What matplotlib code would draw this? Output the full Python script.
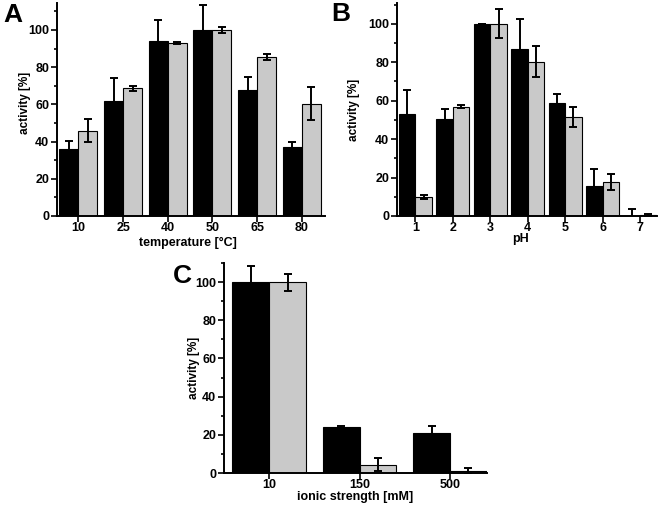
import numpy as np
import matplotlib
matplotlib.use("Agg")
from matplotlib import pyplot as plt
from matplotlib.ticker import MultipleLocator

plt.rcParams['font.family'] = ['Liberation Sans', 'DejaVu Sans']
plt.rcParams['font.weight'] = 'bold'

# panel A: temperature
temp_labels = ['10', '25', '40', '50', '65', '80']
temp_black = [35.8, 62.0, 94.3, 100.0, 67.9, 37.1]
temp_black_err = [4.5, 12.0, 11.0, 13.4, 6.7, 2.5]
temp_gray = [45.9, 68.6, 93.2, 100.0, 85.3, 60.4]
temp_gray_err = [6.0, 1.2, 0.5, 1.8, 1.7, 8.7]

# panel B: pH
ph_labels = ['1', '2', '3', '4', '5', '6', '7']
ph_black = [53.1, 50.3, 100.0, 87.0, 58.7, 15.8, 0.0]
ph_black_err = [12.4, 5.3, 0.0, 15.6, 5.0, 8.5, 3.8]
ph_gray = [9.7, 56.8, 100.0, 80.2, 51.7, 17.9, 0.5]
ph_gray_err = [1.1, 0.7, 7.5, 8.0, 5.2, 4.2, 0.3]

# panel C: ionic strength
ion_labels = ['10', '150', '500']
ion_black = [100.0, 23.9, 20.7]
ion_black_err = [8.4, 0.5, 3.7]
ion_gray = [100.0, 4.4, 1.0]
ion_gray_err = [4.5, 3.5, 1.6]

W, H = 661, 507
fig = plt.figure(figsize=(W / 100, H / 100), dpi=100)

def px_axes(left, top, right, bottom):
    return fig.add_axes([left / W, 1 - bottom / H, (right - left) / W, (bottom - top) / H])

def panel(ax, labels, black, black_err, gray, gray_err, bw, xlim, ylim,
          xlabel, xlabel_pos, ylabel_pos, letter, letter_xy):
    x = np.arange(len(labels))
    ax.bar(x - bw / 2, black, bw, color='black', edgecolor='black', linewidth=0.8, zorder=2)
    ax.bar(x + bw / 2, gray, bw, color='#c9c9c9', edgecolor='black', linewidth=0.8, zorder=2)
    ax.errorbar(x - bw / 2, black, yerr=black_err, fmt='none', ecolor='black',
                elinewidth=1.4, capsize=3, capthick=1.4, zorder=3)
    ax.errorbar(x + bw / 2, gray, yerr=gray_err, fmt='none', ecolor='black',
                elinewidth=1.4, capsize=3, capthick=1.4, zorder=3)
    ax.set_xlim(*xlim)
    ax.set_ylim(0, ylim)
    ax.set_xticks(x)
    ax.set_xticklabels(labels)
    ax.yaxis.set_major_locator(MultipleLocator(20))
    ax.yaxis.set_minor_locator(MultipleLocator(10))
    for side in ['top', 'right']:
        ax.spines[side].set_visible(False)
    for side in ['left', 'bottom']:
        ax.spines[side].set_linewidth(1.4)
    ax.tick_params(which='major', direction='out', length=4, width=1.2, labelsize=9, pad=1.5)
    ax.tick_params(axis='x', which='major', pad=0.5)
    ax.tick_params(which='minor', direction='out', length=2.5, width=1.2)
    ax.set_xlabel(xlabel, fontsize=9, fontweight='bold')
    ax.set_ylabel('activity [%]', fontsize=8.5, fontweight='bold')
    ax.xaxis.set_label_coords(*xlabel_pos)
    ax.yaxis.set_label_coords(*ylabel_pos)
    fig.text(letter_xy[0] / W, 1 - letter_xy[1] / H, letter, fontsize=19,
             fontweight='bold', ha='center', va='center')

axA = px_axes(57, 3, 325, 216)
panel(axA, temp_labels, temp_black, temp_black_err, temp_gray, temp_gray_err,
      0.425, (-0.48, 5.52), 114.5, 'temperature [°C]', (0.49, -0.099),
      ((31 - 57) / 268, 0.53), 'A', (13, 15))

axB = px_axes(397, 3, 657, 216)
panel(axB, ph_labels, ph_black, ph_black_err, ph_gray, ph_gray_err,
      0.44, (-0.49, 6.45), 110.8, 'pH', ((521 - 397) / 260, -0.08),
      ((360 - 397) / 260, 0.5), 'B', (341, 14))

axC = px_axes(224, 263, 487, 473)
panel(axC, ion_labels, ion_black, ion_black_err, ion_gray, ion_gray_err,
      0.406, (-0.5, 2.41), 110, 'ionic strength [mM]', (0.5, -0.088),
      ((200 - 224) / 263, 0.5), 'C', (182, 276))

fig.savefig('out.png', dpi=100)
